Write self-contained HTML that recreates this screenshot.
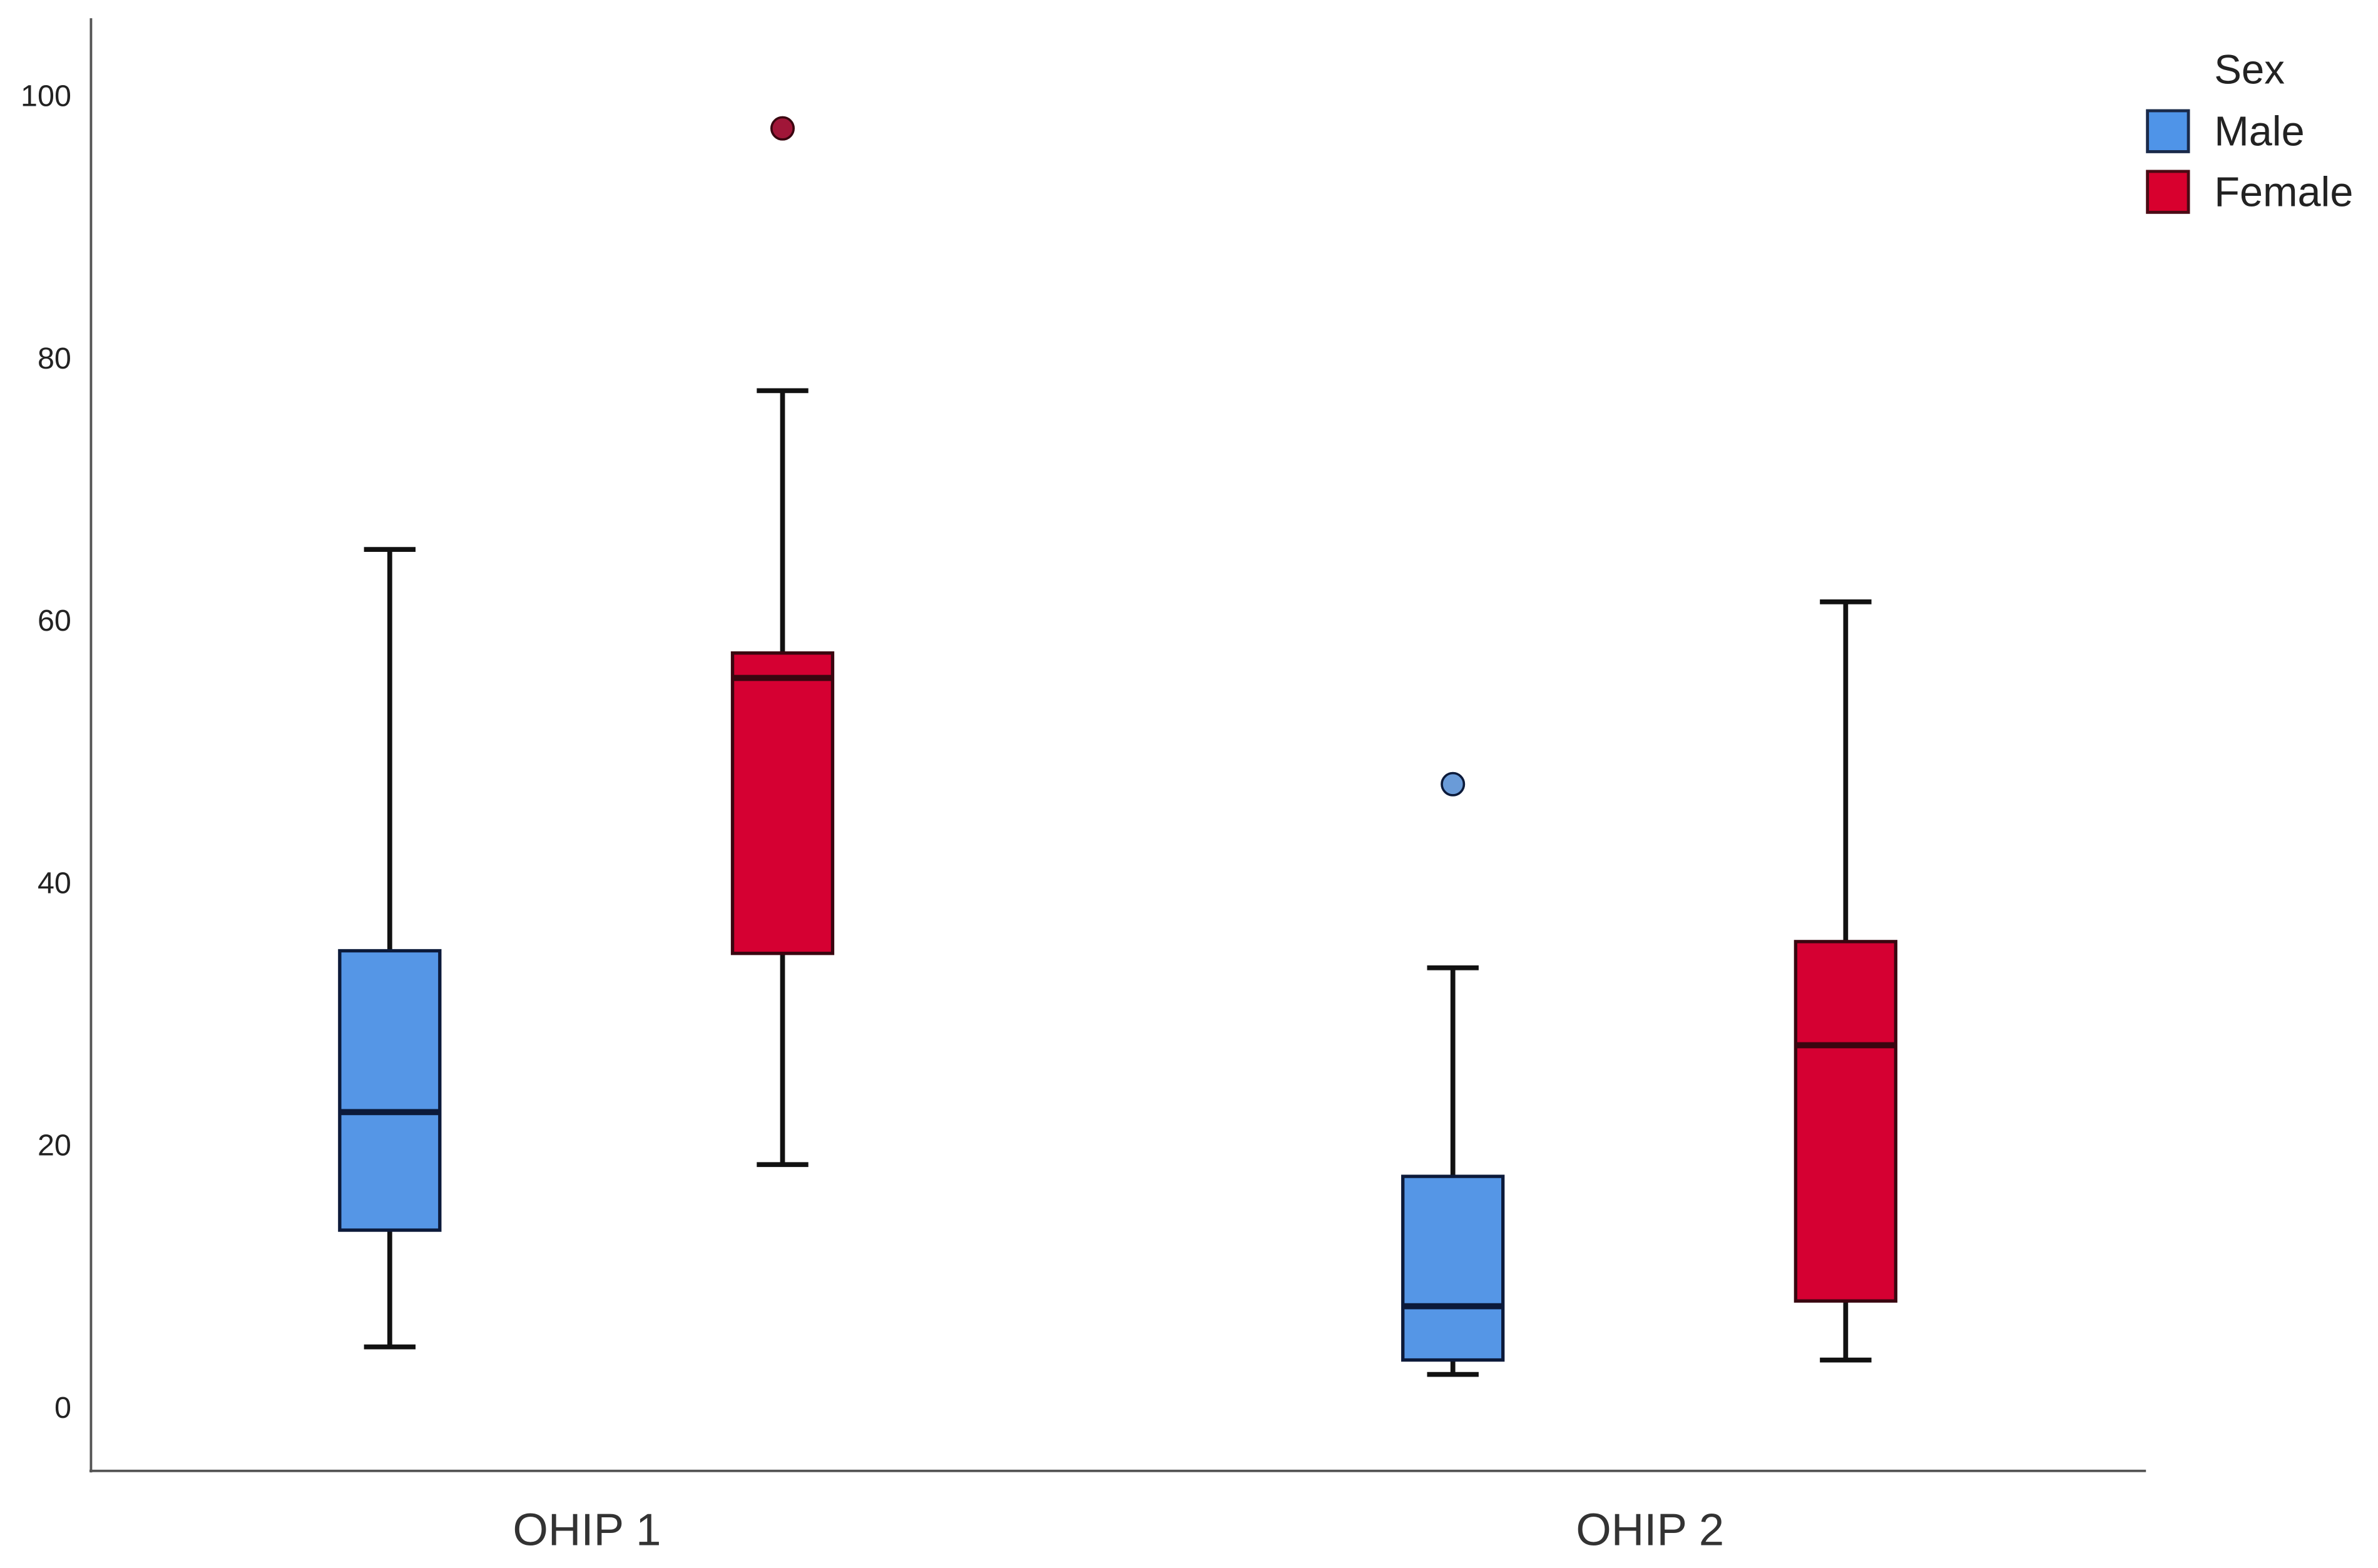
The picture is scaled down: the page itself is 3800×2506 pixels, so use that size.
<!DOCTYPE html>
<html><head><meta charset="utf-8"><style>
html,body{margin:0;padding:0;background:#fff;}
svg{display:block;}
text{font-family:"Liberation Sans","DejaVu Sans",sans-serif;}
</style></head><body>
<svg id="chart" width="3800" height="2506" viewBox="0 0 1568 1034" xmlns="http://www.w3.org/2000/svg">
<g id="axes"></g>
<g id="boxes"></g>
<g id="legend">
  <text x="1460" y="55" font-size="27" fill="#222">Sex</text>
  <rect x="1416" y="73" width="27" height="27" fill="#4f94e8" stroke="#1a2a4a" stroke-width="2"/>
  <text x="1460" y="96" font-size="27.5" fill="#222">Male</text>
  <rect x="1416" y="113" width="27" height="27" fill="#d8002e" stroke="#4a0a14" stroke-width="2"/>
  <text x="1460" y="136" font-size="27.5" fill="#222">Female</text>
</g>
</svg>
<script>
const categories = ["OHIP 1", "OHIP 2"];
const series = ["Male", "Female"];
const whiskerLow = [[4.6, 18.5], [2.5, 3.6]];
const q1 = [[13.5, 34.6], [3.6, 8.1]];
const median = [[22.5, 55.6], [7.7, 27.6]];
const q3 = [[34.8, 57.5], [17.6, 35.5]];
const whiskerHigh = [[65.4, 77.5], [33.5, 61.4]];
const outliers = [[[], [97.5]], [[47.5], []]];
const yTicks = [0, 20, 40, 60, 80, 100];

const NS = "http://www.w3.org/2000/svg";
const fills = ["#5596e6", "#d50032"];
const strokes = ["#0c1a3a", "#3a0610"];
const ptFill = ["#6a9bd8", "#a01638"];
function y(v){ return 928 - v * 8.65; }
function catX(i){ return 387 + i * 701; }
function boxX(i, s){ return catX(i) + (s === 0 ? -130 : 129); }
function mk(tag, attrs, parent){
  const e = document.createElementNS(NS, tag);
  for (const k in attrs) e.setAttribute(k, attrs[k]);
  parent.appendChild(e);
  return e;
}
const axes = document.getElementById("axes");
const boxes = document.getElementById("boxes");
let e;
e = mk("line", {x1:60, y1:12, x2:60, y2:971, stroke:"#555", "stroke-width":1.6}, axes);


e = mk("line", {x1:59, y1:970, x2:1415, y2:970, stroke:"#555", "stroke-width":1.6}, axes);


yTicks.forEach(t => {
  const tx = mk("text", {x:47, y:y(t)+7, "font-size":20, "text-anchor":"end", fill:"#222"}, axes);
  tx.textContent = t;
  
  
});
categories.forEach((c, i) => {
  const tx = mk("text", {x:catX(i), y:1019, "font-size":30, "text-anchor":"middle", fill:"#333"}, axes);
  tx.textContent = c;
  
  
  series.forEach((s, j) => {
    const cx = boxX(i, j);
    const g = mk("g", {}, boxes);
    
    
    const wl = mk("line", {x1:cx, y1:y(whiskerHigh[i][j]), x2:cx, y2:y(whiskerLow[i][j]), stroke:"#111", "stroke-width":3.2}, g);
    
    
    [whiskerHigh[i][j], whiskerLow[i][j]].forEach(v => {
      const cap = mk("line", {x1:cx-17, y1:y(v), x2:cx+17, y2:y(v), stroke:"#111", "stroke-width":3.2}, g);
      
      
    });
    const r = mk("rect", {x:cx-33, y:y(q3[i][j]), width:66, height:y(q1[i][j])-y(q3[i][j]), fill:fills[j], stroke:strokes[j], "stroke-width":2.2}, g);
    
    
    const m = mk("line", {x1:cx-33, y1:y(median[i][j]), x2:cx+33, y2:y(median[i][j]), stroke:strokes[j], "stroke-width":4}, g);
    
    
    outliers[i][j].forEach(v => {
      const p = mk("circle", {cx:cx, cy:y(v), r:7.3, fill:ptFill[j], stroke:strokes[j], "stroke-width":1.5}, g);
      
      
    });
  });
});
</script>
</body></html>
